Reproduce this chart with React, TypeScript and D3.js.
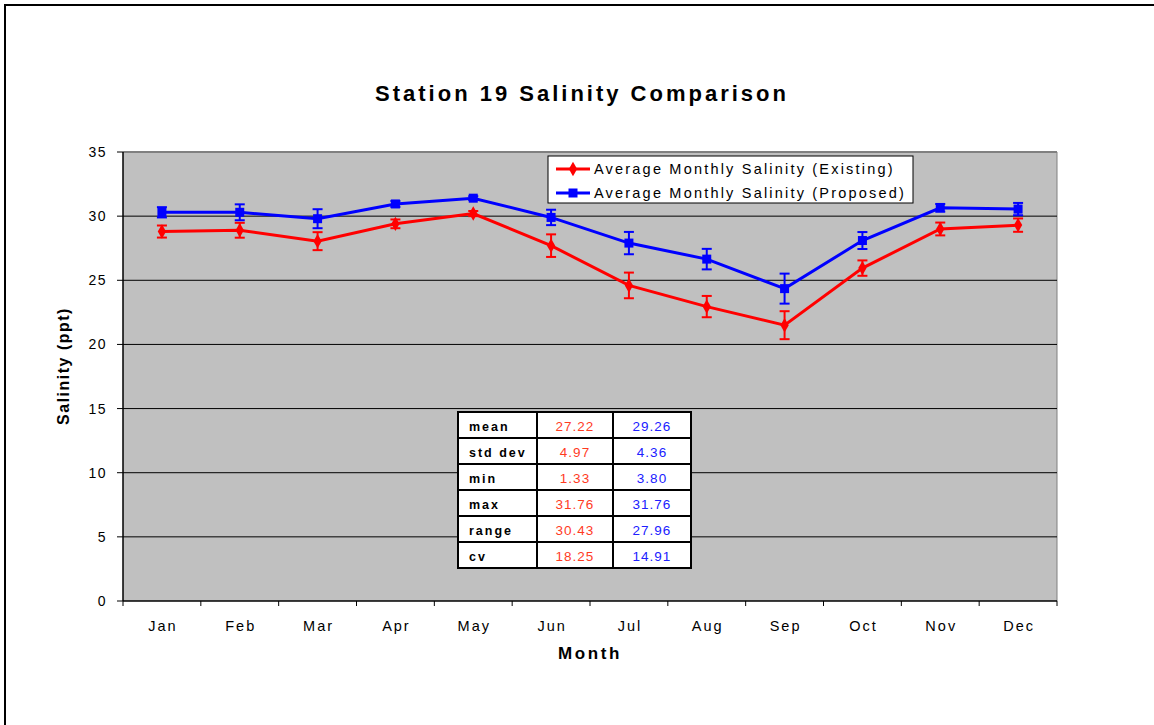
import React from "react";
import * as d3 from "d3";

const months = ["Jan", "Feb", "Mar", "Apr", "May", "Jun", "Jul", "Aug", "Sep", "Oct", "Nov", "Dec"];
const existing = [28.8, 28.9, 28.05, 29.4, 30.2, 27.7, 24.6, 22.95, 21.5, 25.95, 29.0, 29.3];
const existingErr = [0.47, 0.58, 0.7, 0.34, 0.2, 0.88, 1.0, 0.83, 1.09, 0.6, 0.5, 0.52];
const proposed = [30.3, 30.3, 29.8, 30.95, 31.4, 29.9, 27.9, 26.65, 24.35, 28.1, 30.65, 30.55];
const proposedErr = [0.4, 0.62, 0.74, 0.23, 0.15, 0.6, 0.87, 0.8, 1.17, 0.66, 0.3, 0.48];
const yTicks = [0, 5, 10, 15, 20, 25, 30, 35];
const statLabels = ["mean", "std dev", "min", "max", "range", "cv"];
const statExisting = ["27.22", "4.97", "1.33", "31.76", "30.43", "18.25"];
const statProposed = ["29.26", "4.36", "3.80", "31.76", "27.96", "14.91"];
const legendLabels = ["Average Monthly Salinity (Existing)", "Average Monthly Salinity (Proposed)"];

const W = 1154, H = 725;
const PL = 123, PR = 1057, PT = 152, PB = 601;
const FONT = "Arial, 'Liberation Sans', Helvetica, sans-serif";
const RED = "#FF0000";
const BLUE = "#0000FF";

export default function App() {
  const x = d3.scaleBand<string>().domain(months).range([PL, PR]);
  const y = d3.scaleLinear().domain([0, 35]).range([PB, PT]);
  const cx = (m: string) => (x(m) as number) + x.bandwidth() / 2;
  const line = d3.line<number>().x((_, i) => cx(months[i])).y((d) => y(d));
  const diamond = d3.symbol().type(d3.symbolDiamond).size(60)();

  const series = [
    { vals: existing, err: existingErr, color: RED, shape: "diamond" },
    { vals: proposed, err: proposedErr, color: BLUE, shape: "square" },
  ];

  const tX = 458, tY = 412, colX = [458, 537, 613, 691], rowH = 26;

  return (
    <svg width={W} height={H} style={{ position: "absolute", left: 0, top: 0 }} fontFamily={FONT}>
      <rect x={0} y={0} width={W} height={H} fill="#fff" />
      <rect x={5} y={5} width={W + 20} height={H + 20} fill="none" stroke="#000" strokeWidth={2} />
      <text x={582} y={101} textAnchor="middle" fontSize={22} fontWeight="bold" letterSpacing={3}>
        Station 19 Salinity Comparison
      </text>
      <rect x={PL} y={PT} width={PR - PL} height={PB - PT} fill="#C0C0C0" />
      <line x1={PL} x2={PR} y1={PT} y2={PT} stroke="#808080" strokeWidth={2} />
      <line x1={PR} x2={PR} y1={PT} y2={PB} stroke="#808080" strokeWidth={1} />
      {yTicks.map((t) => (
        <g key={t}>
          {t > 0 && t < 35 && <line x1={PL} x2={PR} y1={y(t)} y2={y(t)} stroke="#000" strokeWidth={1} />}
          <line x1={PL - 6} x2={PL} y1={y(t)} y2={y(t)} stroke="#000" strokeWidth={1} />
          <text x={107} y={y(t) + 5} textAnchor="end" fontSize={14} letterSpacing={1.5}>
            {t}
          </text>
        </g>
      ))}
      <line x1={PL} x2={PL} y1={PT} y2={PB} stroke="#000" strokeWidth={1.5} />
      <line x1={PL} x2={PR} y1={PB} y2={PB} stroke="#000" strokeWidth={1.5} />
      {months.map((m, i) => (
        <g key={m}>
          <line x1={x(m) as number} x2={x(m) as number} y1={PB} y2={PB + 5} stroke="#000" />
          {i === months.length - 1 && <line x1={PR} x2={PR} y1={PB} y2={PB + 5} stroke="#000" />}
          <text x={cx(m) + 1} y={631} textAnchor="middle" fontSize={14.5} letterSpacing={2}>
            {m}
          </text>
        </g>
      ))}
      <text x={590} y={659} textAnchor="middle" fontSize={17} fontWeight="bold" letterSpacing={2.6}>
        Month
      </text>
      <text transform={`translate(69,366) rotate(-90)`} textAnchor="middle" fontSize={16} fontWeight="bold" letterSpacing={1.5}>
        Salinity (ppt)
      </text>

      {series.map((s, si) => (
        <g key={si}>
          <path d={line(s.vals) || ""} fill="none" stroke={s.color} strokeWidth={3} />
          {s.vals.map((v, i) => {
            const px = cx(months[i]);
            const y1 = y(v + s.err[i]);
            const y2 = y(v - s.err[i]);
            return (
              <g key={i}>
                <line x1={px} x2={px} y1={y1} y2={y2} stroke={s.color} strokeWidth={2} />
                <line x1={px - 5} x2={px + 5} y1={y1} y2={y1} stroke={s.color} strokeWidth={2} />
                <line x1={px - 5} x2={px + 5} y1={y2} y2={y2} stroke={s.color} strokeWidth={2} />
                {s.shape === "diamond" ? (
                  <path d={diamond || ""} transform={`translate(${px},${y(v)})`} fill={s.color} />
                ) : (
                  <rect x={px - 4.5} y={y(v) - 4.5} width={9} height={9} fill={s.color} />
                )}
              </g>
            );
          })}
        </g>
      ))}

      <rect x={548} y={156} width={365} height={47} fill="#fff" stroke="#000" strokeWidth={1} />
      {legendLabels.map((lab, i) => {
        const ly = 169 + i * 24;
        const s = series[i];
        return (
          <g key={lab}>
            <line x1={556} x2={590} y1={ly} y2={ly} stroke={s.color} strokeWidth={3} />
            {s.shape === "diamond" ? (
              <path d={diamond || ""} transform={`translate(573,${ly})`} fill={s.color} />
            ) : (
              <rect x={568.5} y={ly - 4.5} width={9} height={9} fill={s.color} />
            )}
            <text x={594} y={ly + 5} fontSize={14.5} letterSpacing={2.2}>
              {lab}
            </text>
          </g>
        );
      })}

      <rect x={tX} y={tY} width={colX[3] - tX} height={rowH * 6} fill="#fff" stroke="#000" strokeWidth={2} />
      {statLabels.map((lab, r) => {
        const ry = tY + r * rowH;
        return (
          <g key={lab}>
            {r > 0 && <line x1={tX} x2={colX[3]} y1={ry} y2={ry} stroke="#000" strokeWidth={2} />}
            <text x={469} y={ry + 19} fontSize={12.5} fontWeight="bold" letterSpacing={2}>
              {lab}
            </text>
            <text x={(colX[1] + colX[2]) / 2} y={ry + 19} textAnchor="middle" fontSize={13.5} fill="#FF3B1F" letterSpacing={1}>
              {statExisting[r]}
            </text>
            <text x={(colX[2] + colX[3]) / 2} y={ry + 19} textAnchor="middle" fontSize={13.5} fill="#2020FF" letterSpacing={1}>
              {statProposed[r]}
            </text>
          </g>
        );
      })}
      <line x1={colX[1]} x2={colX[1]} y1={tY} y2={tY + rowH * 6} stroke="#000" strokeWidth={2} />
      <line x1={colX[2]} x2={colX[2]} y1={tY} y2={tY + rowH * 6} stroke="#000" strokeWidth={2} />
    </svg>
  );
}
